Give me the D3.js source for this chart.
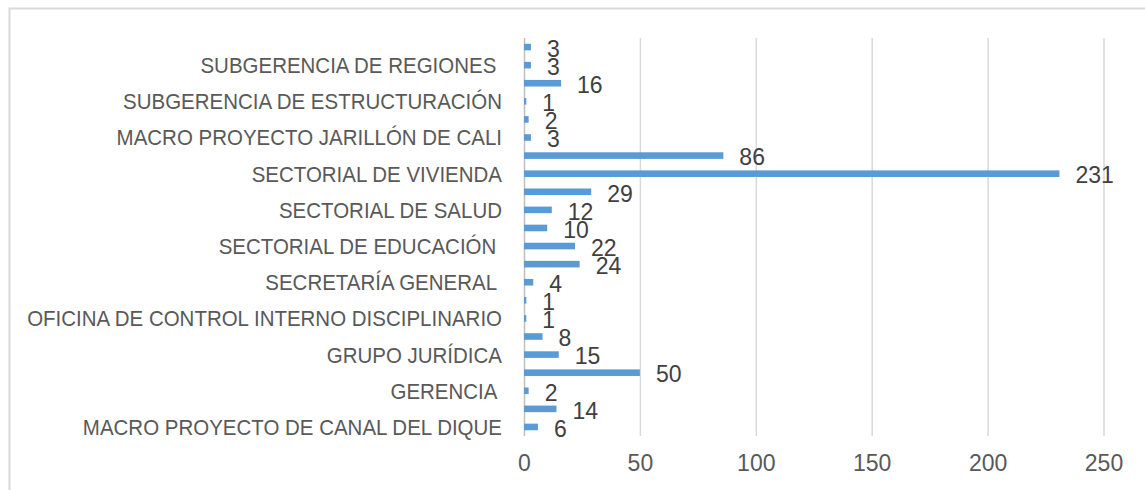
<!DOCTYPE html>
<html>
<head>
<meta charset="utf-8">
<script src="https://cdn.jsdelivr.net/npm/d3@7"></script>
<style>
  html, body { margin: 0; padding: 0; background: #ffffff; }
  svg { display: block; }
</style>
</head>
<body>
<svg id="chart" width="1145" height="490"></svg>
<script>
// Categories from top to bottom; empty strings are rows whose label is not shown on the axis
const categories = [
  "", "SUBGERENCIA DE REGIONES ", "", "SUBGERENCIA DE ESTRUCTURACIÓN", "",
  "MACRO PROYECTO JARILLÓN DE CALI", "", "SECTORIAL DE VIVIENDA", "",
  "SECTORIAL DE SALUD", "", "SECTORIAL DE EDUCACIÓN ", "", "SECRETARÍA GENERAL ",
  "", "OFICINA DE CONTROL INTERNO DISCIPLINARIO", "", "GRUPO JURÍDICA", "",
  "GERENCIA ", "", "MACRO PROYECTO DE CANAL DEL DIQUE"
];
const values = [3, 3, 16, 1, 2, 3, 86, 231, 29, 12, 10, 22, 24, 4, 1, 1, 8, 15, 50, 2, 14, 6];
const xTicks = [0, 50, 100, 150, 200, 250];

const svg = d3.select("#chart");
const W = 1145, H = 490;
const plot = { left: 524, right: 1103.5, top: 38, bottom: 436 };

// outer chart border
svg.append("rect")
  .attr("x", 9.5).attr("y", 8.5)
  .attr("width", W + 20).attr("height", H + 20)
  .attr("fill", "none").attr("stroke", "#d9d9d9").attr("stroke-width", 2);

const x = d3.scaleLinear().domain([0, 250]).range([plot.left, plot.right]);
const band = d3.scaleBand().domain(d3.range(categories.length)).range([plot.top, plot.bottom]);

// gridlines + tick labels
const xAxis = d3.axisBottom(x).tickValues(xTicks).tickSize(plot.bottom - plot.top).tickPadding(0);
const gx = svg.append("g").attr("transform", `translate(0,${plot.top})`).call(xAxis);
gx.select(".domain").remove();
gx.selectAll(".tick line").attr("stroke", "#d9d9d9").attr("stroke-width", 1.5);
gx.selectAll(".tick").filter(d => d === 0).select("line").attr("stroke", "#bfbfbf");
gx.selectAll(".tick text")
  .attr("y", plot.bottom - plot.top + 27)
  .attr("dy", "0.35em")
  .attr("fill", "#595959")
  .style("font-family", "'Liberation Sans', Arial, sans-serif")
  .style("font-size", "23px");

// category labels (condensed horizontally to mimic a narrow typeface)
const labels = svg.append("g").selectAll("text")
  .data(categories.map((c, i) => ({ c, i })).filter(d => d.c !== ""))
  .join("text")
  .attr("x", 0)
  .attr("y", 0)
  .attr("dy", "0.36em")
  .attr("text-anchor", "end")
  .attr("fill", "#595959")
  .attr("xml:space", "preserve")
  .style("white-space", "pre")
  .style("font-family", "'Liberation Sans', Arial, sans-serif")
  .style("font-size", "22px")
  .text(d => d.c);
let maxW = 0;
labels.each(function () { maxW = Math.max(maxW, this.getComputedTextLength()); });
const k = maxW > 0 ? 475 / maxW : 1;
labels.attr("transform", d => `translate(502,${band(d.i) + band.bandwidth() / 2}) scale(${k},1)`);

// bars
svg.append("g").selectAll("rect")
  .data(values.map((v, i) => ({ v, i })))
  .join("rect")
  .attr("x", x(0))
  .attr("y", d => band(d.i) + band.bandwidth() / 2 - 3.3)
  .attr("width", d => x(d.v) - x(0))
  .attr("height", 6.6)
  .attr("fill", "#5b9bd5");

// value labels
svg.append("g").selectAll("text")
  .data(values.map((v, i) => ({ v, i })))
  .join("text")
  .attr("x", d => x(d.v) + 16)
  .attr("y", d => band(d.i) + band.bandwidth() / 2 + 1.5)
  .attr("dy", "0.36em")
  .attr("fill", "#404040")
  .style("font-family", "'Liberation Sans', Arial, sans-serif")
  .style("font-size", "23px")
  .text(d => d.v);
</script>
</body>
</html>
